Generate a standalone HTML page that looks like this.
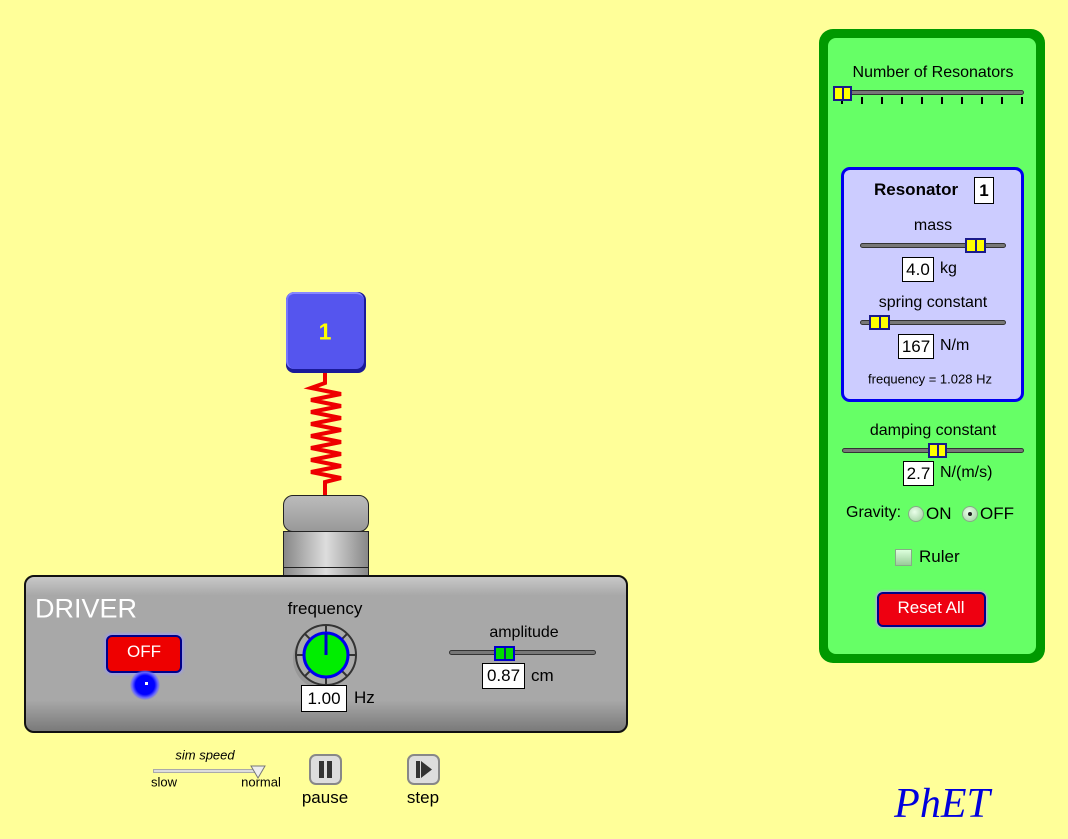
<!DOCTYPE html>
<html><head><meta charset="utf-8"><style>
*{margin:0;padding:0;box-sizing:border-box}
body{width:1068px;height:839px;background:#ffff99;position:relative;overflow:hidden;font-family:"Liberation Sans",sans-serif;color:#000}
.a{position:absolute}
.t{position:absolute;white-space:nowrap;transform:translate(-50%,-50%)}
.tl{position:absolute;white-space:nowrap;transform:translateY(-50%)}
.track{position:absolute;height:5px;background:#777;border:1px solid #333;border-radius:3px}
.thumb{position:absolute;border:2px solid #1a1a8a;background:#ffff00;}
.thumb:after{content:"";position:absolute;left:50%;top:0;bottom:0;width:2px;margin-left:-1px;background:#1a1a8a}
.box{position:absolute;background:#fff;border:1px solid #000;font-size:17px;text-align:center}
</style></head><body>

<div class="a" style="left:819px;top:29px;width:226px;height:634px;background:#009900;border-radius:14px"></div>
<div class="a" style="left:828px;top:38px;width:208px;height:616px;background:#66ff66;border-radius:8px"></div>
<div class="t" style="left:933px;top:73px;font-size:16px">Number of Resonators</div>
<div class="track" style="left:835px;top:90px;width:189px"></div>
<svg class="a" style="left:830px;top:94px" width="200" height="12">
<g stroke="#000" stroke-width="2">
<line x1="12" y1="3" x2="12" y2="10"/><line x1="32" y1="3" x2="32" y2="10"/><line x1="52" y1="3" x2="52" y2="10"/><line x1="72" y1="3" x2="72" y2="10"/><line x1="92" y1="3" x2="92" y2="10"/><line x1="112" y1="3" x2="112" y2="10"/><line x1="132" y1="3" x2="132" y2="10"/><line x1="152" y1="3" x2="152" y2="10"/><line x1="172" y1="3" x2="172" y2="10"/><line x1="192" y1="3" x2="192" y2="10"/></g></svg>
<div class="thumb" style="left:833px;top:86px;width:19px;height:15px"></div>

<div class="a" style="left:841px;top:167px;width:183px;height:235px;background:#ccccff;border:3px solid #0000ee;border-radius:9px"></div>
<div class="tl" style="left:874px;top:190px;font-size:17px;font-weight:bold">Resonator</div>
<div class="box" style="left:974px;top:177px;width:20px;height:27px;font-weight:bold;line-height:25px">1</div>
<div class="t" style="left:933px;top:226px;font-size:16px">mass</div>
<div class="track" style="left:860px;top:243px;width:146px"></div>
<div class="thumb" style="left:965px;top:238px;width:21px;height:15px"></div>
<div class="box" style="left:902px;top:257px;width:32px;height:25px;line-height:23px">4.0</div>
<div class="tl" style="left:940px;top:269px;font-size:16px">kg</div>
<div class="t" style="left:933px;top:303px;font-size:16px">spring constant</div>
<div class="track" style="left:860px;top:320px;width:146px"></div>
<div class="thumb" style="left:869px;top:315px;width:21px;height:15px"></div>
<div class="box" style="left:898px;top:334px;width:36px;height:25px;line-height:23px">167</div>
<div class="tl" style="left:940px;top:346px;font-size:16px">N/m</div>
<div class="t" style="left:930px;top:379px;font-size:13px">frequency = 1.028 Hz</div>

<div class="t" style="left:933px;top:431px;font-size:16px">damping constant</div>
<div class="track" style="left:842px;top:448px;width:182px"></div>
<div class="thumb" style="left:928px;top:443px;width:19px;height:15px"></div>
<div class="box" style="left:903px;top:461px;width:31px;height:25px;line-height:23px">2.7</div>
<div class="tl" style="left:940px;top:473px;font-size:16px">N/(m/s)</div>
<div class="tl" style="left:846px;top:513px;font-size:16px">Gravity:</div>
<div class="a" style="left:908px;top:506px;width:16px;height:16px;border-radius:50%;background:radial-gradient(circle at 40% 35%,#eaffea,#99cc99);border:1px solid #8a8"></div>
<div class="tl" style="left:926px;top:514px;font-size:17px">ON</div>
<div class="a" style="left:962px;top:506px;width:16px;height:16px;border-radius:50%;background:radial-gradient(circle at 40% 35%,#eaffea,#99cc99);border:1px solid #8a8"></div>
<div class="a" style="left:968px;top:512px;width:4px;height:4px;border-radius:50%;background:#222"></div>
<div class="tl" style="left:980px;top:514px;font-size:17px">OFF</div>
<div class="a" style="left:895px;top:549px;width:17px;height:17px;background:linear-gradient(#ddffdd,#99cc99);border:1px solid #8a8"></div>
<div class="tl" style="left:919px;top:557px;font-size:17px">Ruler</div>
<div class="a" style="left:877px;top:592px;width:109px;height:35px;background:#ee0011;border:2px solid #000088;border-radius:6px;box-shadow:0 0 2px 1px #cc99ff"></div>
<div class="t" style="left:931px;top:608px;font-size:17px;color:#fff">Reset All</div>

<svg class="a" style="left:0;top:0" width="640" height="580">
<polyline points="325,372 325,383 311,388 341,394 311,400 341,406 311,412 341,418 311,424 341,430 311,436 341,442 311,448 341,454 311,460 341,466 311,472 341,478 325,482 325,495" fill="none" stroke="#ee0000" stroke-width="4"/>
</svg>
<div class="a" style="left:286px;top:292px;width:80px;height:81px;border-radius:8px;background:#1a1a99"></div>
<div class="a" style="left:286px;top:292px;width:78px;height:77px;border-radius:8px;background:#5555ee;border-top:2px solid #8888ff;border-left:2px solid #7777ff"></div>
<div class="t" style="left:325px;top:332px;font-size:23px;font-weight:bold;color:#ffff00">1</div>

<div class="a" style="left:283px;top:531px;width:86px;height:46px;border:1px solid #222;background:linear-gradient(90deg,#888,#ddd 50%,#888)"></div>
<div class="a" style="left:283px;top:567px;width:86px;height:1px;background:#222"></div>
<div class="a" style="left:283px;top:495px;width:86px;height:37px;border:1px solid #222;border-radius:10px;background:linear-gradient(#bbb,#999)"></div>

<div class="a" style="left:24px;top:575px;width:604px;height:158px;border:2px solid #111;border-radius:10px;background:linear-gradient(#c8c8c8 0%,#a8a8a8 12%,#a8a8a8 80%,#7a7a7a 100%)"></div>
<div class="tl" style="left:35px;top:609px;font-size:27px;color:#fff">DRIVER</div>
<div class="a" style="left:106px;top:635px;width:76px;height:38px;background:#ee0000;border:2px solid #000088;border-radius:6px;box-shadow:0 0 3px 1px #9999ff"></div>
<div class="t" style="left:144px;top:652px;font-size:17px;color:#fff">OFF</div>
<div class="a" style="left:130px;top:670px;width:30px;height:30px;border-radius:50%;background:radial-gradient(circle,#0000ff 45%,#6666ff 60%,rgba(120,120,255,0) 72%)"></div>
<div class="a" style="left:145px;top:682px;width:3px;height:3px;background:#fff"></div>
<div class="t" style="left:325px;top:609px;font-size:17px">frequency</div>
<svg class="a" style="left:290px;top:620px" width="72" height="72">
<circle cx="33" cy="39" r="30" fill="#888" opacity=".5"/>
<circle cx="36" cy="35" r="30" fill="#aaa" stroke="#333" stroke-width="2"/>
<g stroke="#333" stroke-width="2"><line x1="36" y1="5" x2="36" y2="65"/><line x1="6" y1="35" x2="66" y2="35"/><line x1="15" y1="14" x2="57" y2="56"/><line x1="57" y1="14" x2="15" y2="56"/></g>
<circle cx="36" cy="35" r="22" fill="#00ee00" stroke="#0000ee" stroke-width="3"/>
<line x1="36" y1="35" x2="36" y2="13" stroke="#0000cc" stroke-width="3"/>
</svg>
<div class="box" style="left:301px;top:685px;width:46px;height:27px;line-height:25px">1.00</div>
<div class="tl" style="left:354px;top:698px;font-size:17px">Hz</div>
<div class="t" style="left:524px;top:633px;font-size:16px">amplitude</div>
<div class="track" style="left:449px;top:650px;width:147px"></div>
<div class="thumb" style="left:494px;top:646px;width:21px;height:15px;background:#00dd00;border-color:#0000cc"></div>
<div class="box" style="left:482px;top:663px;width:43px;height:26px;line-height:24px">0.87</div>
<div class="tl" style="left:531px;top:676px;font-size:17px">cm</div>

<div class="t" style="left:205px;top:755px;font-size:13px;font-style:italic">sim speed</div>
<div class="a" style="left:153px;top:769px;width:108px;height:4px;background:#ddd;border:1px solid #aaa"></div>
<svg class="a" style="left:250px;top:765px" width="16" height="14"><polygon points="1,1 15,1 8,13" fill="#eee" stroke="#777"/></svg>
<div class="t" style="left:164px;top:782px;font-size:13px">slow</div>
<div class="t" style="left:261px;top:782px;font-size:13px">normal</div>
<div class="a" style="left:309px;top:754px;width:33px;height:31px;background:#ddd;border:2px solid #888;border-radius:7px"></div>
<div class="a" style="left:319px;top:761px;width:5px;height:17px;background:#333"></div>
<div class="a" style="left:327px;top:761px;width:5px;height:17px;background:#333"></div>
<div class="t" style="left:325px;top:798px;font-size:17px">pause</div>
<div class="a" style="left:407px;top:754px;width:33px;height:31px;background:#ddd;border:2px solid #888;border-radius:7px"></div>
<div class="a" style="left:416px;top:761px;width:4px;height:17px;background:#333"></div>
<svg class="a" style="left:421px;top:761px" width="12" height="18"><polygon points="0,0 11,8.5 0,17" fill="#333"/></svg>
<div class="t" style="left:423px;top:798px;font-size:17px">step</div>

<div class="t" style="left:942px;top:804px;font-size:42px;font-style:italic;color:#0000dd;font-family:'Liberation Serif',serif">PhET</div>
</body></html>
